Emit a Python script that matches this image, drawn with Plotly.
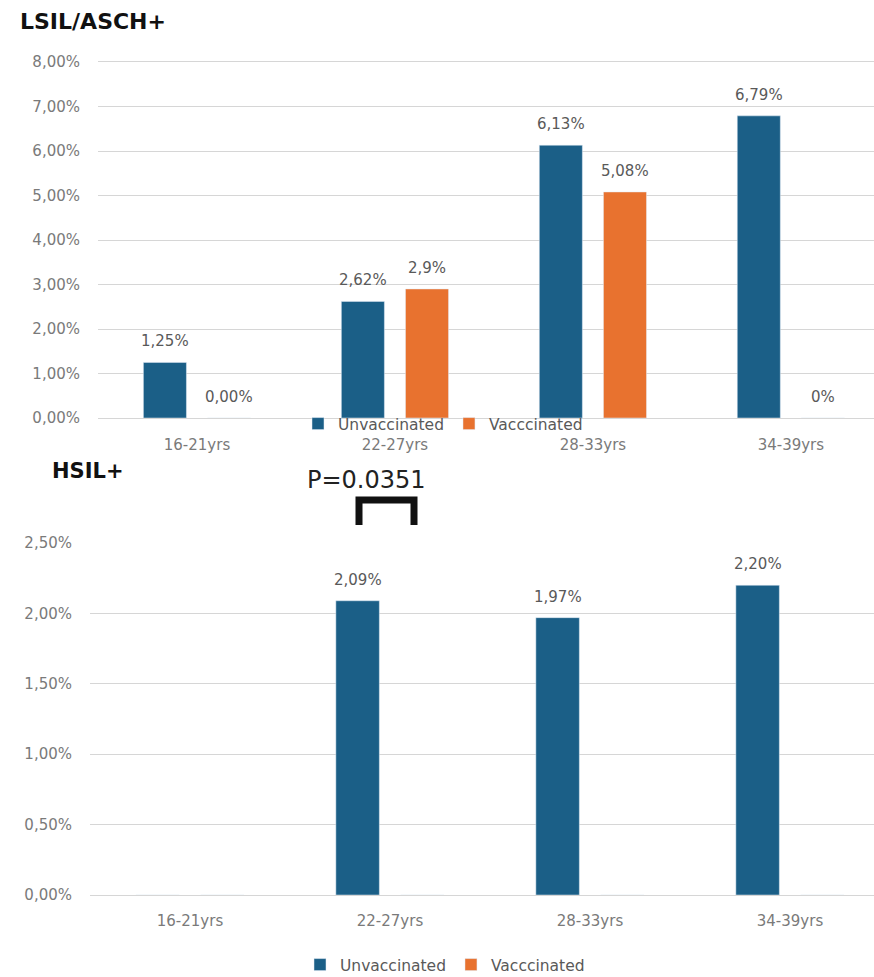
import plotly.graph_objects as go

# Age groups and rates (percent) for each screening outcome
categories = ["16-21yrs", "22-27yrs", "28-33yrs", "34-39yrs"]
series_names = ["Unvaccinated", "Vacccinated"]

lsil_unvaccinated = [1.25, 2.62, 6.13, 6.79]
lsil_vaccinated = [0.00, 2.9, 5.08, 0]
lsil_unvaccinated_labels = ["1,25%", "2,62%", "6,13%", "6,79%"]
lsil_vaccinated_labels = ["0,00%", "2,9%", "5,08%", "0%"]

hsil_unvaccinated = [0, 2.09, 1.97, 2.20]
hsil_vaccinated = [0, 0, 0, 0]
hsil_unvaccinated_labels = ["", "2,09%", "1,97%", "2,20%"]
hsil_vaccinated_labels = ["", "", "", ""]

lsil_tickvals = [0, 1, 2, 3, 4, 5, 6, 7, 8]
lsil_ticktext = ["0,00%", "1,00%", "2,00%", "3,00%", "4,00%", "5,00%", "6,00%", "7,00%", "8,00%"]
hsil_tickvals = [0, 0.5, 1.0, 1.5, 2.0, 2.5]
hsil_ticktext = ["0,00%", "0,50%", "1,00%", "1,50%", "2,00%", "2,50%"]

p_value_text = "P=0.0351"

BLUE = "#1b5f87"
ORANGE = "#e8722f"
LABEL_GREY = "#595959"
TICK_GREY = "#7a7a7a"
GRID = "#d6d6d6"
FONT = "DejaVu Sans"

W, H = 874, 977


def px(x):
    return x / W


def py(y):
    return 1 - y / H


# bar geometry in category units
BAR_W = 0.2175
SHIFT = 0.162

# upper panel: 0 % sits at y=418 px, 1 % spans 44.5 px; a little headroom above 8 %
LSIL_PX_PER_UNIT = 44.5
LSIL_TOP = 8.09

fig = go.Figure()


def add_pair(unvac, vac, xa, ya, legend):
    idx = list(range(len(categories)))
    fig.add_trace(go.Bar(
        x=idx, y=unvac, name=series_names[0], marker_color=BLUE,
        width=BAR_W, offset=-SHIFT - BAR_W / 2, xaxis=xa, yaxis=ya,
        legend=legend, showlegend=True,
    ))
    fig.add_trace(go.Bar(
        x=idx, y=vac, name=series_names[1], marker_color=ORANGE,
        width=BAR_W, offset=SHIFT - BAR_W / 2, xaxis=xa, yaxis=ya,
        legend=legend, showlegend=True,
    ))


add_pair(lsil_unvaccinated, lsil_vaccinated, "x", "y", "legend")
add_pair(hsil_unvaccinated, hsil_vaccinated, "x2", "y2", "legend2")

annotations = []


def add_labels(values, labels, shift, xref, yref):
    for i, (v, t) in enumerate(zip(values, labels)):
        if not t:
            continue
        annotations.append(dict(
            x=i + shift, y=v, xref=xref, yref=yref, text=t, showarrow=False,
            yshift=21, yanchor="middle", xanchor="center",
            font=dict(family=FONT, size=15, color=LABEL_GREY),
        ))


add_labels(lsil_unvaccinated, lsil_unvaccinated_labels, -SHIFT, "x", "y")
add_labels(lsil_vaccinated, lsil_vaccinated_labels, SHIFT, "x", "y")
add_labels(hsil_unvaccinated, hsil_unvaccinated_labels, -SHIFT, "x2", "y2")
add_labels(hsil_vaccinated, hsil_vaccinated_labels, SHIFT, "x2", "y2")

# panel titles and significance note
annotations += [
    dict(x=px(18), y=py(22), xref="paper", yref="paper", text="<b>LSIL/ASCH+</b>",
         showarrow=False, xanchor="left", yanchor="middle",
         font=dict(family=FONT, size=22, color="#111111")),
    dict(x=px(50), y=py(471), xref="paper", yref="paper", text="<b>HSIL+</b>",
         showarrow=False, xanchor="left", yanchor="middle",
         font=dict(family=FONT, size=21, color="#111111")),
    dict(x=px(366), y=py(480), xref="paper", yref="paper", text=p_value_text,
         showarrow=False, xanchor="center", yanchor="middle",
         font=dict(family=FONT, size=24, color="#222222")),
]

shapes = [
    dict(type="path", xref="paper", yref="paper",
         path=f"M {px(359)},{py(525)} L {px(359)},{py(500)} L {px(414)},{py(500)} L {px(414)},{py(525)}",
         line=dict(color="#111111", width=7)),
]

axis_common = dict(
    showgrid=False, zeroline=False, showline=False, ticks="",
    tickmode="array", tickvals=list(range(len(categories))), ticktext=categories,
    tickfont=dict(family=FONT, size=15, color=TICK_GREY),
    fixedrange=True,
)
yaxis_common = dict(
    showgrid=True, gridcolor=GRID, gridwidth=1, zeroline=True, zerolinecolor=GRID,
    zerolinewidth=1, showline=False, ticks="", tickmode="array",
    tickfont=dict(family=FONT, size=15, color=TICK_GREY), fixedrange=True,
)

legend_common = dict(
    orientation="h", xanchor="left", yanchor="middle",
    font=dict(family=FONT, size=15.5, color=LABEL_GREY),
    bgcolor="rgba(0,0,0,0)", borderwidth=0,
    itemclick=False, itemdoubleclick=False,
)

lsil_top_px = 418 - LSIL_TOP * LSIL_PX_PER_UNIT

fig.update_layout(
    width=W, height=H,
    margin=dict(l=0, r=0, t=0, b=0, autoexpand=False),
    paper_bgcolor="white", plot_bgcolor="white",
    barmode="overlay",
    xaxis=dict(axis_common, domain=[px(98), 1], range=[-0.5, 3.42], anchor="y",
               ticklabelstandoff=16),
    yaxis=dict(yaxis_common, domain=[py(418), py(lsil_top_px)], range=[0, LSIL_TOP],
               tickvals=lsil_tickvals, ticktext=lsil_ticktext, anchor="x",
               ticklabelstandoff=17),
    xaxis2=dict(axis_common, domain=[px(90), 1], range=[-0.5, 3.42], anchor="y2",
                ticklabelstandoff=15),
    yaxis2=dict(yaxis_common, domain=[py(895), py(543)], range=[0, 2.5002],
                tickvals=hsil_tickvals, ticktext=hsil_ticktext, anchor="x2",
                ticklabelstandoff=17),
    legend=dict(legend_common, x=px(298), y=py(424)),
    legend2=dict(legend_common, x=px(300), y=py(965)),
    annotations=annotations,
    shapes=shapes,
    showlegend=True,
)

fig.write_html("out.html", config={"displayModeBar": False})
